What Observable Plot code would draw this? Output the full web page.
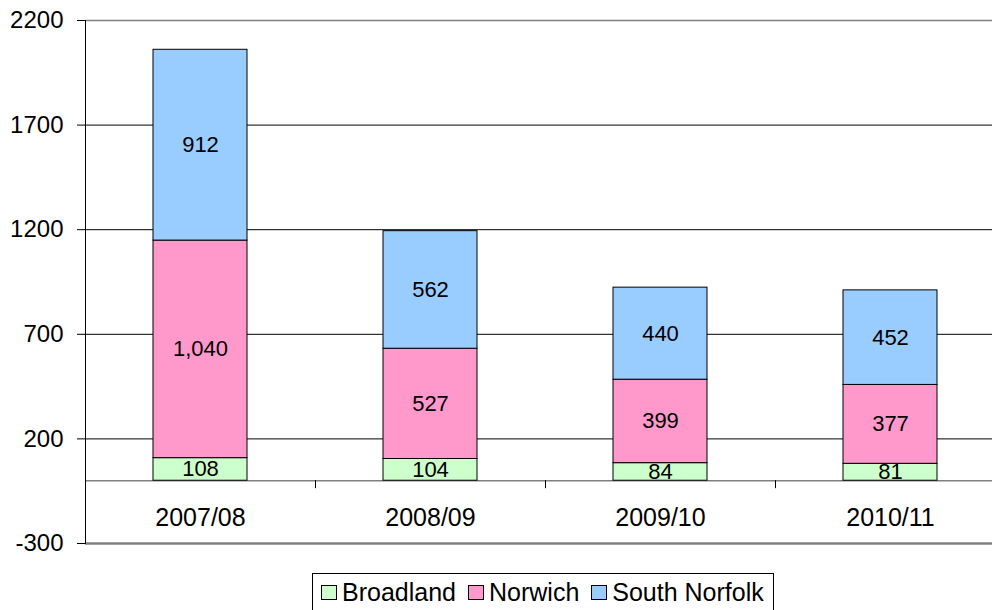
<!DOCTYPE html>
<html><head><meta charset="utf-8">
<script src="https://cdn.jsdelivr.net/npm/d3@7"></script>
<script src="https://cdn.jsdelivr.net/npm/@observablehq/plot@0.6"></script>
<style>
html,body{margin:0;padding:0;background:#fff;overflow:hidden;width:992px;height:610px;}
#chart{position:absolute;left:0;top:0;width:1005px;}
#chart svg{max-width:none !important;}
#legend{position:absolute;left:312px;top:573px;width:462px;height:44px;box-sizing:border-box;border:1px solid #000;background:#fff;
  display:flex;align-items:flex-start;padding-top:4px;padding-left:8px;font-family:"Liberation Sans",Arial,sans-serif;font-size:25px;line-height:29px;color:#000;white-space:nowrap;}
#legend .item{display:flex;align-items:center;margin-right:12px;}
#legend .sw{width:14px;height:13px;border:1px solid #000;margin-right:5px;}
</style></head><body>
<div id="chart"></div><div id="legend"></div>
<script>
const categories = ["2007/08", "2008/09", "2009/10", "2010/11"];
const series = ["Broadland", "Norwich", "South Norfolk"];
const broadland = [108, 104, 84, 81];
const norwich = [1040, 527, 399, 377];
const southNorfolk = [912, 562, 440, 452];
const yTicks = [-300, 200, 700, 1200, 1700, 2200];
const gridTicks = [200, 700, 1200, 1700];
const colors = ["#CCFFCC", "#FF99CC", "#99CCFF"];

const data = [];
[broadland, norwich, southNorfolk].forEach((vals, i) =>
  vals.forEach((v, j) => data.push({cat: categories[j], series: series[i], value: v})));

const font = "'Liberation Sans', Arial, sans-serif";
const chart = Plot.plot({
  width: 1005, height: 553,
  marginLeft: 85, marginRight: 0, marginTop: 20, marginBottom: 10,
  style: {fontFamily: font, background: "#fff", overflow: "visible", color: "#000", maxWidth: "none"},
  x: {type: "band", domain: categories, padding: 0, axis: null},
  y: {domain: [yTicks[0], yTicks[yTicks.length - 1]], axis: null},
  color: {domain: series, range: colors},
  marks: [
    Plot.ruleY(gridTicks, {stroke: "#000", strokeWidth: 1}),
    Plot.ruleY([yTicks[yTicks.length - 1]], {stroke: "#808080", strokeWidth: 1.5}),
    Plot.ruleY([yTicks[0]], {stroke: "#808080", strokeWidth: 2.5}),
    Plot.ruleY([0], {stroke: "#808080", strokeWidth: 1.5}),
    Plot.ruleX(categories.slice(1), {x: d => d, dx: -115, y1: 0, y2: -38, stroke: "#000"}),
    Plot.frame({anchor: "left", stroke: "#000"}),
    Plot.axisY({ticks: yTicks, tickSize: 8, tickPadding: 14, fontSize: 24, tickFormat: d => `${d}`, label: null}),
    Plot.barY(data, {x: "cat", y: "value", fill: "series", stroke: "#000", strokeWidth: 1, insetLeft: 68, insetRight: 68}),
    Plot.text(data, Plot.stackY({x: "cat", y: "value", z: "series", text: d => d3.format(",")(d.value), fontSize: 22, fill: "#000"})),
    Plot.text(categories, {x: d => d, y: 0, dy: 37, fontSize: 25, fill: "#000"})
  ]
});
document.getElementById("chart").appendChild(chart);

const legend = document.getElementById("legend");
series.forEach((s, i) => {
  const item = document.createElement("div");
  item.className = "item";
  const sw = document.createElement("div");
  sw.className = "sw";
  sw.style.background = colors[i];
  const t = document.createElement("span");
  t.textContent = s;
  item.appendChild(sw); item.appendChild(t);
  legend.appendChild(item);
});
</script>
</body></html>
